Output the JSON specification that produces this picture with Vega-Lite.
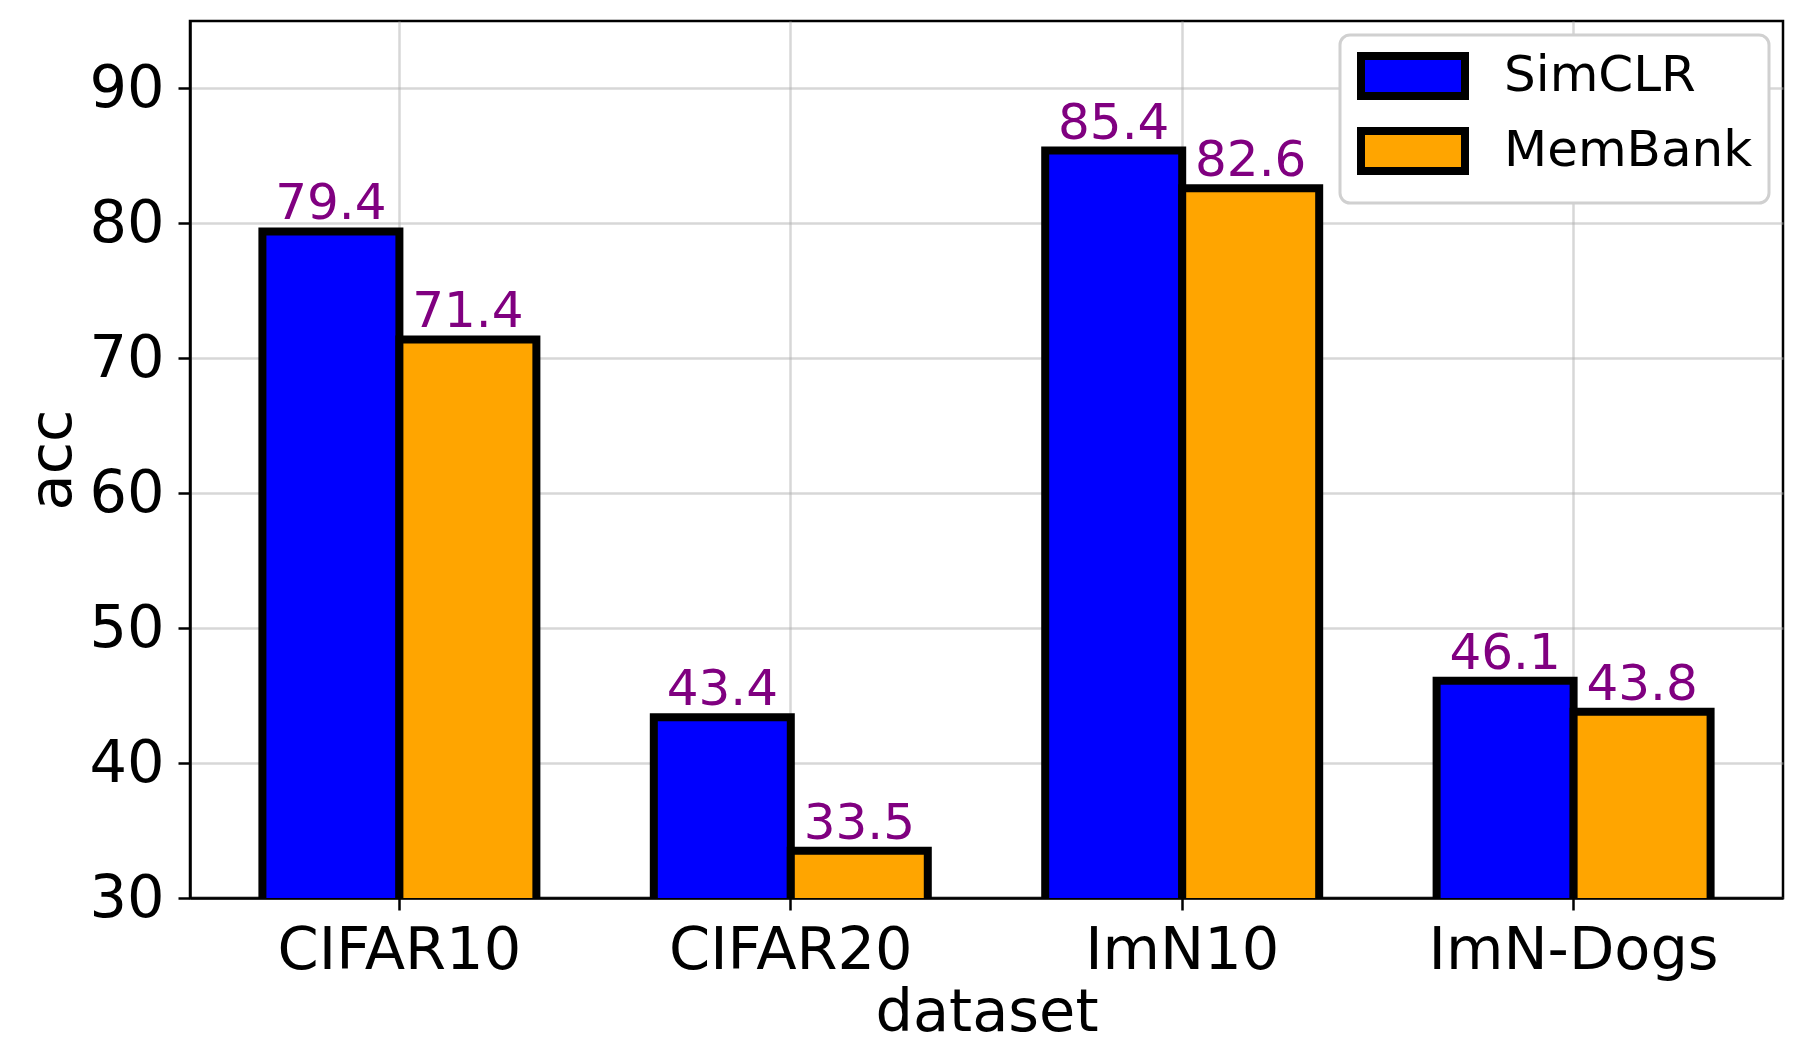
{
  "$schema": "https://vega.github.io/schema/vega-lite/v6.json",
  "autosize": {"type": "none"},
  "padding": {"left": 190, "top": 21, "right": 17, "bottom": 152},
  "width": 1593,
  "height": 877,
  "background": "white",
  "config": {
    "font": "DejaVu Sans",
    "view": {"stroke": "black", "strokeWidth": 2.5},
    "axis": {
      "zindex": 1,
      "grid": true,
      "gridColor": "#b0b0b0",
      "gridOpacity": 0.5,
      "gridWidth": 2.5,
      "domainColor": "black",
      "domainWidth": 2.5,
      "tickColor": "black",
      "tickWidth": 2.5,
      "tickSize": 12,
      "labelFontSize": 59,
      "labelLimit": 0,
      "labelColor": "black",
      "titleFontSize": 59,
      "titleFontWeight": "normal",
      "titleColor": "black"
    }
  },
  "data": {
    "values": [
      {"dataset": "CIFAR10", "method": "SimCLR", "acc": 79.4},
      {"dataset": "CIFAR10", "method": "MemBank", "acc": 71.4},
      {"dataset": "CIFAR20", "method": "SimCLR", "acc": 43.4},
      {"dataset": "CIFAR20", "method": "MemBank", "acc": 33.5},
      {"dataset": "ImN10", "method": "SimCLR", "acc": 85.4},
      {"dataset": "ImN10", "method": "MemBank", "acc": 82.6},
      {"dataset": "ImN-Dogs", "method": "SimCLR", "acc": 46.1},
      {"dataset": "ImN-Dogs", "method": "MemBank", "acc": 43.8}
    ]
  },
  "encoding": {
    "x": {
      "field": "dataset",
      "type": "nominal",
      "sort": null,
      "scale": {"paddingInner": 0.3, "paddingOuter": 0.185},
      "axis": {
        "title": "dataset",
        "labelAngle": 0,
        "bandPosition": 0.5,
        "labelPadding": 11,
        "titlePadding": 3
      }
    },
    "xOffset": {
      "field": "method",
      "type": "nominal",
      "sort": ["SimCLR", "MemBank"],
      "scale": {"paddingInner": 0, "paddingOuter": 0}
    },
    "y": {
      "field": "acc",
      "type": "quantitative",
      "scale": {"domain": [30, 95], "nice": false, "zero": false},
      "axis": {
        "title": "acc",
        "values": [30, 40, 50, 60, 70, 80, 90],
        "labelPadding": 14,
        "titlePadding": 6
      }
    }
  },
  "layer": [
    {
      "mark": {"type": "bar", "clip": true, "stroke": "black", "strokeWidth": 8},
      "encoding": {
        "y2": {"datum": 0},
        "color": {
          "field": "method",
          "type": "nominal",
          "scale": {"domain": ["SimCLR", "MemBank"], "range": ["#0000ff", "#ffa500"]},
          "legend": {
            "title": null,
            "orient": "top-right",
            "offset": 14,
            "padding": 16,
            "cornerRadius": 10,
            "strokeColor": "#d0d0d0",
            "fillColor": "white",
            "symbolType": "M-2.6,-1H2.6V1H-2.6Z",
            "symbolSize": 1600,
            "symbolOffset": 32,
            "symbolStrokeColor": "black",
            "symbolStrokeWidth": 8,
            "symbolOpacity": 1,
            "labelOffset": 66,
            "labelFontSize": 50,
            "labelLimit": 0,
            "labelColor": "black",
            "rowPadding": 3,
            "encode": {
              "legend": {"update": {"strokeWidth": {"value": 3}}}
            }
          }
        }
      }
    },
    {
      "mark": {"type": "text", "baseline": "alphabetic", "dy": -12, "color": "#800080", "fontSize": 50},
      "encoding": {
        "text": {"field": "acc", "type": "quantitative", "format": ".1f"}
      }
    }
  ]
}
